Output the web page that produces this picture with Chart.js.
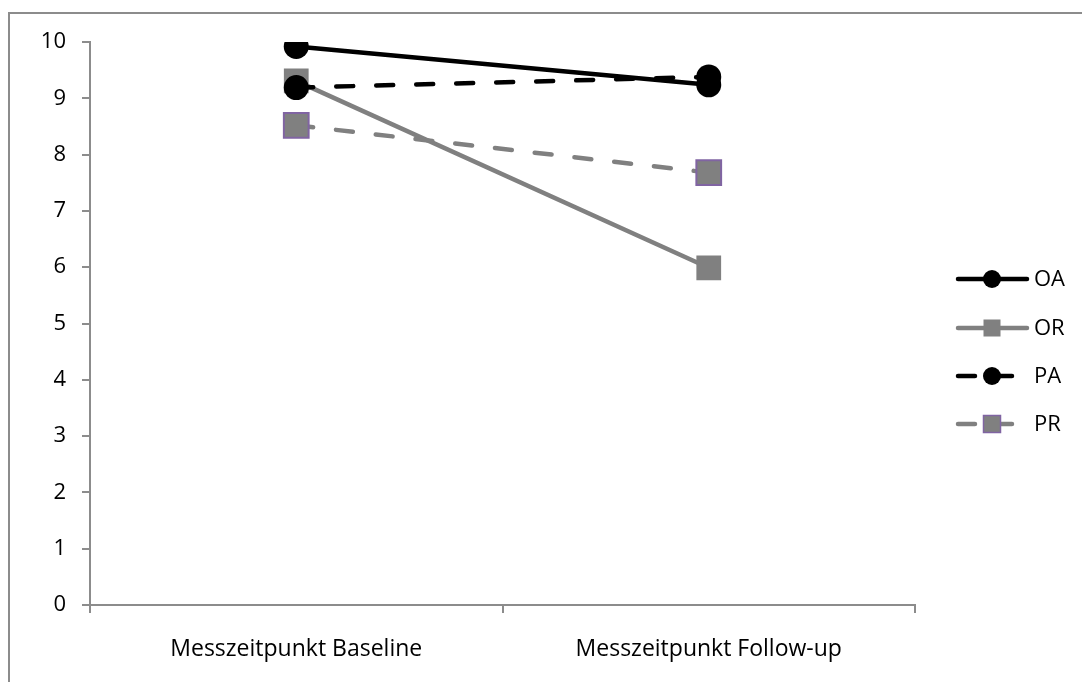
<!DOCTYPE html>
<html>
<head>
<meta charset="utf-8">
<script src="https://cdn.jsdelivr.net/npm/chart.js@4/dist/chart.umd.min.js"></script>
<style>
  html, body { margin: 0; padding: 0; background: #fff; overflow: hidden; }
  #wrap { position: relative; width: 1082px; height: 682px; }
  #frame { position: absolute; left: 8px; top: 12px; width: 1100px; height: 700px; border: 2px solid #8c8c8c; box-sizing: border-box; }
  canvas { position: absolute; left: 0; top: 0; }
</style>
</head>
<body>
<div id="wrap">
  <div id="frame"></div>
  <canvas id="myChart" width="1082" height="682"></canvas>
</div>
<script>
// Messzeitpunkte
const labels = ['Messzeitpunkt Baseline', 'Messzeitpunkt Follow-up'];

// Mittelwerte je Gruppe
const oaValues = [9.92, 9.24];
const orValues = [9.31, 5.99];
const paValues = [9.19, 9.38];
const prValues = [8.52, 7.68];

const yTicks = [0, 1, 2, 3, 4, 5, 6, 7, 8, 9, 10];

const FONT = '"Open Sans", sans-serif';
const FSIZE = 22;
const GRAY = '#808080';
const AXIS = '#8c8c8c';

function series(label, data, color, dashed, marker, border, order) {
    return {
        label, data, order,
        borderColor: color,
        borderWidth: 4.5,
        borderDash: dashed ? [17, 23] : [],
        borderCapStyle: 'round',
        pointStyle: marker,
        pointRadius: marker === 'rect' ? 17.5 : 12.5,
        pointHoverRadius: marker === 'rect' ? 17.5 : 12.5,
        pointBackgroundColor: color,
        pointBorderColor: border || color,
        pointBorderWidth: border ? 2 : 0,
        tension: 0,
        fill: false
    };
}

// Legende rechts: Linie + Marker + Text
const sideLegend = {
    id: 'sideLegend',
    afterDraw(chart) {
        const ctx = chart.ctx;
        const x0 = 958, rows = [279, 328, 376, 424];
        ctx.save();
        chart.data.datasets.forEach((ds, i) => {
            const y = rows[i];
            const dashed = ds.borderDash.length > 0;
            ctx.strokeStyle = ds.borderColor;
            ctx.lineWidth = ds.borderWidth;
            ctx.lineCap = 'round';
            ctx.setLineDash(dashed ? [17, 23] : []);
            ctx.beginPath();
            ctx.moveTo(x0, y);
            ctx.lineTo(dashed ? 1012 : 1027, y);
            ctx.stroke();
            ctx.setLineDash([]);
            ctx.fillStyle = ds.pointBackgroundColor;
            const cx = 992;
            if (ds.pointStyle === 'rect') {
                ctx.fillRect(cx - 8.5, y - 8.5, 17, 17);
                if (ds.pointBorderWidth) {
                    ctx.strokeStyle = ds.pointBorderColor;
                    ctx.lineWidth = 1.5;
                    ctx.strokeRect(cx - 8.5, y - 8.5, 17, 17);
                }
            } else {
                ctx.beginPath();
                ctx.arc(cx, y, 9, 0, Math.PI * 2);
                ctx.fill();
            }
            ctx.fillStyle = '#000';
            ctx.font = FSIZE + 'px ' + FONT;
            ctx.textBaseline = 'middle';
            ctx.fillText(ds.label, 1034, y + 1);
        });
        ctx.restore();
    }
};

new Chart(document.getElementById('myChart'), {
    type: 'line',
    data: {
        labels,
        datasets: [
            series('OA', oaValues, '#000000', false, 'circle', null, 4),
            series('OR', orValues, GRAY, false, 'rect', null, 3),
            series('PA', paValues, '#000000', true, 'circle', null, 2),
            series('PR', prValues, GRAY, true, 'rect', '#8064a2', 1)
        ]
    },
    options: {
        responsive: false,
        animation: false,
        layout: { padding: { left: 0, right: 167, top: 42, bottom: 0 } },
        plugins: { legend: { display: false }, tooltip: { enabled: false } },
        scales: {
            x: {
                offset: true,
                afterFit: s => { s.height = 77; },
                grid: { offset: true, drawOnChartArea: false, drawTicks: true, tickLength: 8, color: AXIS, lineWidth: 2 },
                border: { color: AXIS, width: 2 },
                ticks: { color: '#000', font: { family: FONT, size: 23 }, padding: 23, maxRotation: 0 }
            },
            y: {
                min: 0, max: 10,
                afterFit: s => { s.width = 90; },
                afterBuildTicks: s => { s.ticks = yTicks.map(v => ({ value: v })); },
                grid: { drawOnChartArea: false, drawTicks: true, tickLength: 8, color: AXIS, lineWidth: 2 },
                border: { color: AXIS, width: 2 },
                ticks: { color: '#000', font: { family: FONT, size: FSIZE }, padding: 16 }
            }
        }
    },
    plugins: [sideLegend]
});
</script>
</body>
</html>
